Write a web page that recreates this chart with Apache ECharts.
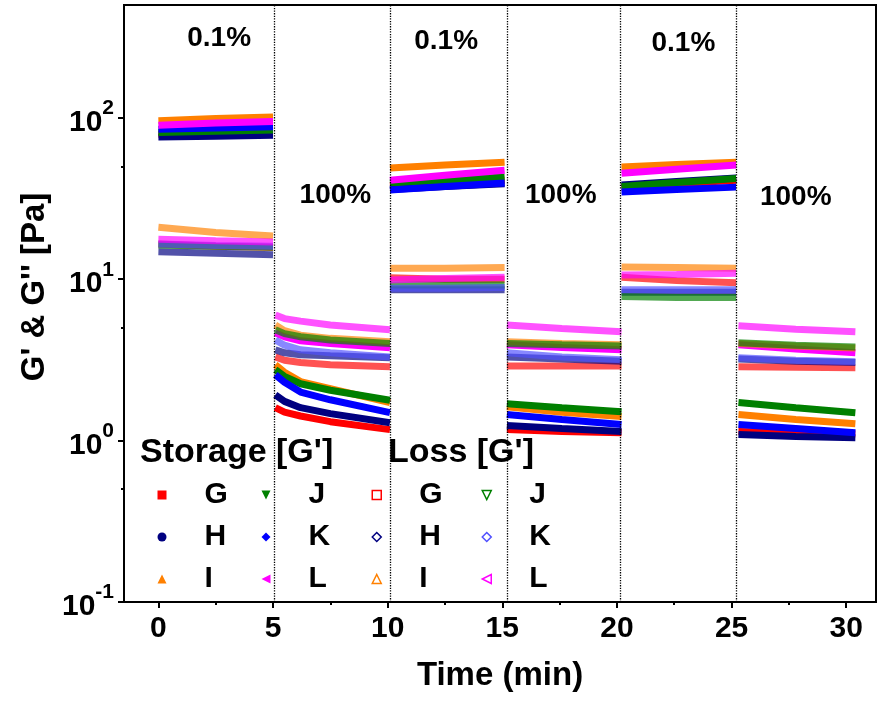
<!DOCTYPE html>
<html><head><meta charset="utf-8">
<script src="https://cdn.jsdelivr.net/npm/echarts@6/dist/echarts.min.js"></script>
<style>html,body{margin:0;padding:0;background:#fff}#c{width:886px;height:701px}</style>
</head><body><div id="c"></div>
<script>
// time points (min) for each of the six strain segments
const segTimes = [
  [0, 2.5, 5.0],
  [5.1, 5.5, 6.2, 7.5, 10.1],
  [10.1, 12.5, 15.1],
  [15.2, 17.6, 20.2],
  [20.2, 22.6, 25.2],
  [25.3, 27.8, 30.4]
];
const sampleNames = ['G', 'H', 'I', 'J', 'K', 'L'];
const storageColors = ['#ff0000', '#000080', '#ff8000', '#008000', '#0000ff', '#ff00ff'];
const lossColors = ['#ff0000', '#000080', '#ff8000', '#008000', '#5050ff', '#ff00ff'];

// Storage modulus G' (Pa)
const storageG = [79, 80, 81, 1.6, 1.5, 1.42, 1.31, 1.17, 38, 39.5, 41, 1.17, 1.14, 1.12, 37, 39, 41, 1.14, 1.12, 1.1];
const storageH = [76, 77, 78, 1.92, 1.75, 1.6, 1.47, 1.29, 36, 37.5, 39, 1.24, 1.19, 1.14, 38.3, 40.3, 42.3, 1.09, 1.06, 1.04];
const storageI = [96, 99, 101, 2.95, 2.65, 2.32, 2.1, 1.72, 48.8, 51, 53, 1.62, 1.5, 1.41, 49.5, 51.3, 53, 1.45, 1.35, 1.27];
const storageJ = [81, 82.5, 84, 2.75, 2.5, 2.25, 2.05, 1.78, 39.4, 41.2, 43, 1.69, 1.6, 1.51, 37.5, 39.7, 42, 1.72, 1.6, 1.49];
const storageK = [85, 86.5, 88, 2.56, 2.3, 2.0, 1.79, 1.49, 35.7, 37.5, 39.4, 1.45, 1.35, 1.26, 34.7, 36, 37.2, 1.26, 1.19, 1.12];
const storageL = [90, 93, 95, 4.65, 4.4, 4.15, 4.0, 3.76, 41, 44, 47.4, 3.92, 3.78, 3.65, 45.4, 48, 51, 3.92, 3.7, 3.5];
// Loss modulus G'' (Pa)
const lossG = [16.5, 16, 15.7, 3.3, 3.15, 3.05, 2.95, 2.87, 10.2, 10, 10, 2.9, 2.9, 2.9, 10.3, 9.8, 9.5, 2.87, 2.85, 2.83];
const lossH = [14.8, 14.5, 14.2, 3.65, 3.5, 3.4, 3.35, 3.26, 8.6, 8.6, 8.6, 3.3, 3.2, 3.1, 8.3, 8.3, 8.3, 3.2, 3.1, 3.05];
const lossI = [21, 19.5, 18.5, 5.2, 4.8, 4.5, 4.3, 4.1, 11.7, 11.7, 11.8, 4.1, 4.0, 3.92, 11.9, 11.8, 11.7, 4.0, 3.85, 3.75];
const lossJ = [16.3, 16, 15.8, 4.86, 4.6, 4.4, 4.2, 4.0, 9.2, 9.2, 9.2, 4.0, 3.92, 3.85, 7.8, 7.7, 7.7, 4.04, 3.9, 3.8];
const lossK = [16.5, 16.2, 16, 4.2, 3.9, 3.65, 3.5, 3.3, 8.8, 8.8, 8.9, 3.5, 3.3, 3.17, 8.6, 8.6, 8.6, 3.26, 3.15, 3.08];
const lossL = [17.7, 17.3, 17, 6.0, 5.7, 5.5, 5.2, 4.86, 9.9, 10.1, 10.3, 5.2, 4.95, 4.72, 10.6, 10.7, 10.9, 5.14, 4.9, 4.72];

const storageSets = [storageG, storageH, storageI, storageJ, storageK, storageL];
const lossSets = [lossG, lossH, lossI, lossJ, lossK, lossL];

// axis ticks
const xMajorTicks = [0, 5, 10, 15, 20, 25, 30];
const xMinorTicks = [2.5, 7.5, 12.5, 17.5, 22.5, 27.5];
const yMajorTicks = [0.1, 1, 10, 100];
const yMinorTicks = [0.5, 5, 50];
const segBoundaries = [5.05, 10.1, 15.2, 20.15, 25.2];

// strain annotations
const annotTexts = ['0.1%', '100%', '0.1%', '100%', '0.1%', '100%'];
const annotTimes = [2.65, 7.72, 12.55, 17.55, 22.9, 27.8];
const annotValues = [311, 33.2, 298, 33.2, 289, 32.3];

const FONT = "'Liberation Sans', Arial, sans-serif";

function toData(vals) {
  const out = [];
  let k = 0;
  segTimes.forEach((seg, si) => {
    if (si > 0) out.push([seg[0], null]);
    seg.forEach(t => { out.push([t, vals[k++]]); });
  });
  return out;
}

const series = [];
storageSets.forEach((vals, i) => {
  series.push({
    name: 'S-' + sampleNames[i], type: 'line', data: toData(vals),
    showSymbol: false, connectNulls: false, silent: true,
    itemStyle: { color: storageColors[i] },
    lineStyle: { color: storageColors[i], width: 7 }
  });
});
lossSets.forEach((vals, i) => {
  series.push({
    name: 'L-' + sampleNames[i], type: 'line', data: toData(vals),
    showSymbol: false, connectNulls: false, silent: true,
    itemStyle: { color: lossColors[i] },
    lineStyle: { color: lossColors[i], width: 7, opacity: 0.68 }
  });
});
series[0].markLine = {
  silent: true, symbol: ['none', 'none'], label: { show: false },
  lineStyle: { color: '#000', type: 'dotted', width: 1.3 },
  data: segBoundaries.map(v => ({ xAxis: v }))
};
series.push({
  name: 'annot', type: 'scatter', symbolSize: 0, silent: true,
  itemStyle: { color: '#000', opacity: 1 },
  data: annotTexts.map((t, i) => ({ name: t, value: [annotTimes[i], annotValues[i]] })),
  label: { show: true, position: 'inside', formatter: p => p.name, opacity: 1,
    fontFamily: FONT, fontSize: 28, fontWeight: 'bold', color: '#000', textBorderWidth: 0 }
});

const storageIcons = ['rect', 'circle', 'triangle', 'path://M0,0L10,0L5,10Z', 'diamond', 'path://M10,0L10,10L0,5Z'];
const lossIcons = ['rect', 'diamond', 'triangle', 'path://M0,0L10,0L5,10Z', 'diamond', 'path://M10,0L10,10L0,5Z'];
function legendCol(left, prefix, idx, colors, hollow) {
  const icons = hollow ? lossIcons : storageIcons;
  return {
    orient: 'vertical', left: left, top: 480, padding: 0, itemGap: 12,
    itemWidth: 9, itemHeight: 9, selectedMode: false,
    formatter: n => n.slice(2),
    textStyle: { fontFamily: FONT, fontSize: 30, fontWeight: 'bold', color: '#000', lineHeight: 30, padding: [0, 0, 0, 33] },
    data: idx.map(i => ({
      name: prefix + sampleNames[i], icon: icons[i],
      itemStyle: hollow ? { color: '#fff', borderColor: colors[i], borderWidth: 1.5 } : { color: colors[i], borderWidth: 0 }
    }))
  };
}

const labelRich = {
  b: { fontFamily: FONT, fontSize: 30, fontWeight: 'bold', color: '#000', lineHeight: 40, verticalAlign: 'bottom' },
  s: { fontFamily: FONT, fontSize: 21, fontWeight: 'bold', color: '#000', lineHeight: 40, verticalAlign: 'top' }
};

const option = {
  animation: false,
  backgroundColor: '#fff',
  grid: { left: 124, right: 10, top: 5, bottom: 99, show: true, borderColor: '#000', borderWidth: 2 },
  xAxis: [{
    type: 'value', min: -1.5, max: 31.3, position: 'bottom',
    name: 'Time (min)', nameLocation: 'middle', nameGap: 57,
    nameTextStyle: { fontFamily: FONT, fontSize: 33, fontWeight: 'bold', color: '#000' },
    axisLine: { onZero: false, lineStyle: { color: '#000', width: 2 } },
    axisTick: { customValues: xMajorTicks, length: 6, lineStyle: { color: '#000', width: 2 } },
    axisLabel: { customValues: xMajorTicks, margin: 12, fontFamily: FONT, fontSize: 30, fontWeight: 'bold', color: '#000' },
    splitLine: { show: false }
  }, {
    type: 'value', min: -1.5, max: 31.3, position: 'bottom',
    axisLine: { show: false, onZero: false },
    axisTick: { customValues: xMinorTicks, length: 3, lineStyle: { color: '#000', width: 2 } },
    axisLabel: { show: false }, splitLine: { show: false }
  }],
  yAxis: [{
    type: 'log', logBase: 10, min: 0.1, max: 500, position: 'left',
    axisLine: { onZero: false, lineStyle: { color: '#000', width: 2 } },
    axisTick: { customValues: yMajorTicks, length: 6, lineStyle: { color: '#000', width: 2 } },
    axisLabel: { customValues: yMajorTicks, margin: 10, rich: labelRich,
      formatter: v => '{b|10}{s|' + Math.round(Math.log10(v)) + '}' },
    splitLine: { show: false }
  }, {
    type: 'log', logBase: 10, min: 0.1, max: 500, position: 'left',
    axisLine: { show: false, onZero: false },
    axisTick: { customValues: yMinorTicks, length: 3, lineStyle: { color: '#000', width: 2 } },
    axisLabel: { show: false }, splitLine: { show: false }
  }],
  legend: [
    legendCol(157.5, 'S-', [0, 1, 2], storageColors, false),
    legendCol(261.5, 'S-', [3, 4, 5], storageColors, false),
    legendCol(371.5, 'L-', [0, 1, 2], lossColors, true),
    legendCol(481.5, 'L-', [3, 4, 5], lossColors, true)
  ],
  graphic: [
    { type: 'text', x: 35, y: 287, rotation: Math.PI / 2,
      style: { text: "G' & G'' [Pa]", font: "bold 33px " + FONT, fill: '#000', align: 'center', verticalAlign: 'middle' } },
    { type: 'text', x: 140, y: 453, style: { text: "Storage [G']", font: "bold 34px " + FONT, fill: '#000', verticalAlign: 'middle' } },
    { type: 'text', x: 388, y: 453, style: { text: "Loss [G']", font: "bold 34px " + FONT, fill: '#000', verticalAlign: 'middle' } }
  ],
  series: series
};

const chart = echarts.init(document.getElementById('c'), null, { renderer: 'canvas' });
chart.setOption(option);
</script>
</body></html>
